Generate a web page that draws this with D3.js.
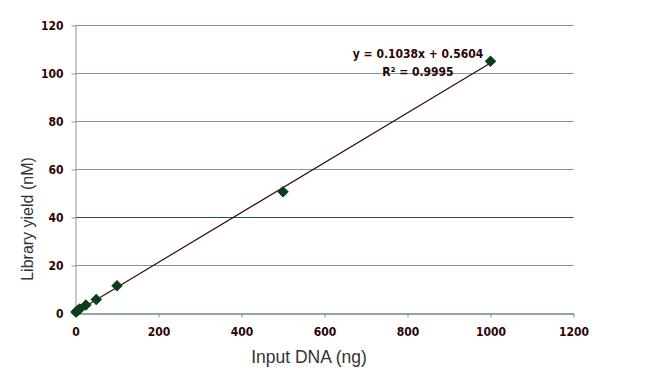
<!DOCTYPE html>
<html><head><meta charset="utf-8">
<script src="https://cdn.jsdelivr.net/npm/d3@7"></script>
<style>body{margin:0;background:#fff}</style>
</head><body>
<svg id="c" width="649" height="380"></svg>
<script>
const inputDNA = [1, 5, 10, 25, 50, 100, 500, 1000];
const libraryYield = [0.6, 1.2, 1.9, 3.5, 5.8, 11.6, 50.7, 105.1];
const xTicks = [0, 200, 400, 600, 800, 1000, 1200];
const yTicks = [0, 20, 40, 60, 80, 100, 120];
const slope = 0.1038, intercept = 0.5604;
const eqText = "y = 0.1038x + 0.5604";
const r2Text = "R² = 0.9995";

const svg = d3.select("#c");
const x = d3.scaleLinear().domain([0, 1200]).range([75.5, 573.5]);
const y = d3.scaleLinear().domain([0, 120]).range([313.5, 25.5]);
const tickFont = "'DejaVu Sans Condensed', 'DejaVu Sans', sans-serif";

// gridlines
svg.append("g").selectAll("line").data(yTicks.filter(d => d > 0)).join("line")
  .attr("x1", x(0)).attr("x2", x(1200))
  .attr("y1", d => y(d)).attr("y2", d => y(d))
  .attr("stroke", d => d === 40 ? "#1f4f5a" : "#7f95a3").attr("stroke-width", 1);

// y axis
const ya = svg.append("g").attr("transform", `translate(${x(0)},0)`)
  .call(d3.axisLeft(y).tickValues(yTicks).tickFormat(d3.format("d")).tickSize(4).tickSizeOuter(0).tickPadding(8));
ya.select(".domain").attr("stroke", "#7f95a3");
ya.selectAll(".tick line").attr("stroke", "#7f95a3");
ya.selectAll("text").attr("font-family", tickFont).attr("font-weight", "bold")
  .attr("font-size", 12).attr("fill", "#2a0505");

// x axis
const xa = svg.append("g").attr("transform", `translate(0,${y(0)})`)
  .call(d3.axisBottom(x).tickValues(xTicks).tickFormat(d3.format("d")).tickSize(4).tickSizeOuter(0).tickPadding(10));
xa.select(".domain").attr("stroke", "#1f4f5a");
xa.selectAll(".tick line").attr("stroke", "#7f95a3");
xa.selectAll("text").attr("font-family", tickFont).attr("font-weight", "bold")
  .attr("font-size", 12).attr("fill", "#2a0505");

// trendline
const xmin = d3.min(inputDNA), xmax = d3.max(inputDNA);
svg.append("line")
  .attr("x1", x(xmin)).attr("y1", y(slope * xmin + intercept))
  .attr("x2", x(xmax)).attr("y2", y(slope * xmax + intercept))
  .attr("stroke", "#3a0a0a").attr("stroke-width", 1.2);

// diamonds
svg.append("g").selectAll("path").data(inputDNA.map((d, i) => [d, libraryYield[i]])).join("path")
  .attr("d", d3.symbol().type(d3.symbolDiamond2).size(85))
  .attr("transform", d => `translate(${x(d[0])},${y(d[1])})`)
  .attr("fill", "#0d3d1a");

// equation
svg.append("text").attr("x", 418).attr("y", 58).attr("text-anchor", "middle")
  .attr("font-family", tickFont).attr("font-weight", "bold").attr("font-size", 12)
  .attr("fill", "#2a0505").text(eqText);
svg.append("text").attr("x", 418).attr("y", 76).attr("text-anchor", "middle")
  .attr("font-family", tickFont).attr("font-weight", "bold").attr("font-size", 12)
  .attr("fill", "#2a0505").text(r2Text);

// axis titles
svg.append("text").attr("x", 309).attr("y", 363).attr("text-anchor", "middle")
  .attr("font-family", "'Liberation Sans', Arial, sans-serif").attr("font-size", 17.5)
  .attr("fill", "#333").text("Input DNA (ng)");
svg.append("text").attr("transform", `translate(33,219) rotate(-90)`)
  .attr("text-anchor", "middle")
  .attr("font-family", "'Liberation Sans', Arial, sans-serif").attr("font-size", 16)
  .attr("fill", "#333").text("Library yield (nM)");
</script>
</body></html>
